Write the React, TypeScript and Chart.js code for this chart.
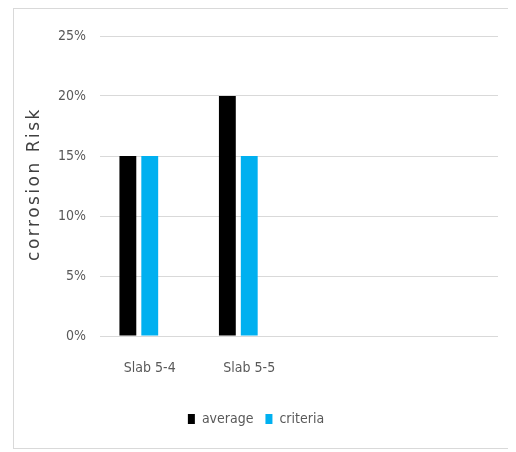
import { useEffect, useRef } from "react";
import { Chart, registerables } from "chart.js";

Chart.register(...registerables);

// Slabs on the category axis; the two trailing slots are unused positions.
const categories = ["Slab 5-4", "Slab 5-5", "", ""];
// Corrosion risk in percent.
const averageValues = [15, 20, null, null];
const criteriaValues = [15, 15, null, null];
// Third series slot of the cluster, empty.
const spareValues = [null, null, null, null];
const yMin = 0;
const yMax = 25;
const yStep = 5;
const axisTitle = "corrosion Risk";

const narrowFont = "'Liberation Sans Narrow', 'DejaVu Sans Condensed', sans-serif";

// Rotated y-axis caption with slight tracking.
const axisTitlePlugin = {
  id: "axisTitle",
  afterDraw(chart: any) {
    const { ctx, chartArea } = chart;
    const yScale = chart.scales.y;
    ctx.save();
    ctx.font = "17px 'DejaVu Sans', sans-serif";
    ctx.fillStyle = "#404040";
    (ctx as any).letterSpacing = "2.5px";
    ctx.translate(yScale.left + 21, (chartArea.top + chartArea.bottom) / 2 - 2);
    ctx.rotate(-Math.PI / 2);
    ctx.textAlign = "center";
    ctx.textBaseline = "middle";
    ctx.fillText(axisTitle, 0, 0);
    ctx.restore();
  },
};

export default function App() {
  const canvasRef = useRef<HTMLCanvasElement | null>(null);

  useEffect(() => {
    if (!canvasRef.current) return;
    const chart = new Chart(canvasRef.current, {
      type: "bar",
      data: {
        labels: categories,
        datasets: [
          {
            label: "average",
            data: averageValues,
            backgroundColor: "#000000",
            categoryPercentage: 0.66,
            barPercentage: 0.77,
          },
          {
            label: "criteria",
            data: criteriaValues,
            backgroundColor: "#00B0F0",
            categoryPercentage: 0.66,
            barPercentage: 0.77,
          },
          {
            label: "",
            data: spareValues,
            backgroundColor: "#A5A5A5",
            categoryPercentage: 0.66,
            barPercentage: 0.77,
          },
        ],
      },
      options: {
        animation: false,
        responsive: true,
        maintainAspectRatio: false,
        layout: { padding: { left: 0, right: 10, top: 27, bottom: 12 } },
        plugins: {
          tooltip: { enabled: false },
          legend: {
            position: "bottom",
            labels: {
              filter: (item: any) => item.text !== "",
              boxWidth: 7,
              boxHeight: 10,
              padding: 12,
              color: "#595959",
              font: { family: narrowFont, size: 14 },
            },
          },
        },
        scales: {
          x: {
            grid: { display: false, drawTicks: false },
            border: { display: false },
            ticks: {
              color: "#595959",
              padding: 24,
              font: { family: narrowFont, size: 14 },
              maxRotation: 0,
            },
            afterFit: (scale: any) => {
              scale.height = 64;
            },
          },
          y: {
            min: yMin,
            max: yMax,
            grid: { color: "#d9d9d9", lineWidth: 1, drawTicks: false },
            border: { display: false },
            ticks: {
              stepSize: yStep,
              color: "#595959",
              padding: 14,
              font: { family: narrowFont, size: 14 },
              callback: (v: any) => `${v}%`,
            },
            afterFit: (scale: any) => {
              scale.width = 86;
            },
          },
        },
      },
      plugins: [axisTitlePlugin],
    });
    return () => chart.destroy();
  }, []);

  return (
    <div
      style={{
        marginLeft: 5,
        width: 494,
        height: 439,
        border: "1px solid #d9d9d9",
        background: "#ffffff",
      }}
    >
      <div style={{ position: "relative", width: 494, height: 439 }}>
        <canvas ref={canvasRef} />
      </div>
    </div>
  );
}
